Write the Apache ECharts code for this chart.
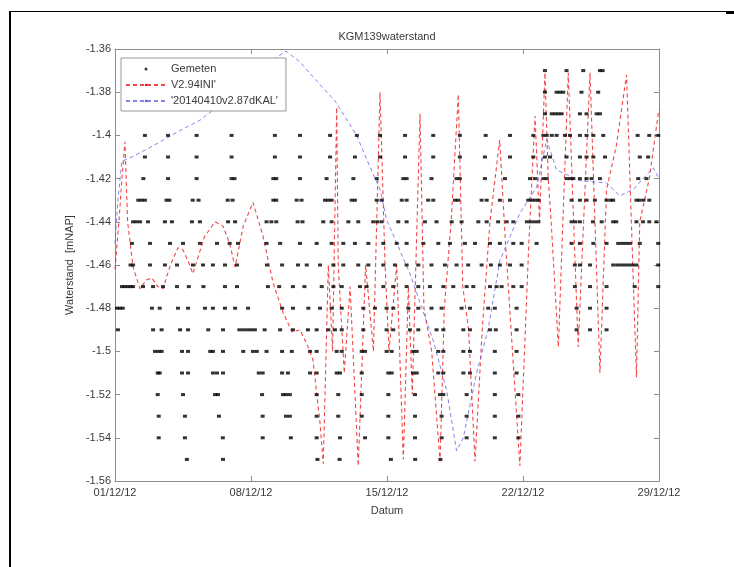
<!DOCTYPE html>
<html><head><meta charset="utf-8">
<script src="https://cdn.jsdelivr.net/npm/echarts@6/dist/echarts.min.js"></script>
<style>html,body{margin:0;padding:0;background:#fff}#c{width:734px;height:567px}</style>
</head><body><div id="c"></div>
<script>
// x values are days after 01/12/12
const xTickLabels = ['01/12/12','08/12/12','15/12/12','22/12/12','29/12/12'];
const chartTitle = 'KGM139waterstand';
const seriesNames = ['Gemeten', "V2.94INI'", "'20140410v2.87dKAL'"];

// Gemeten: one list of days per measured level
const gemLevels = [-1.37,-1.38,-1.39,-1.40,-1.41,-1.42,-1.43,-1.44,-1.45,-1.46,-1.47,-1.48,-1.49,-1.50,-1.51,-1.52,-1.53,-1.54,-1.55];
const gemDays = [
  [22.13,23.24,24.10,24.96,25.1],
  [22.13,22.73,22.9,23.07,24.01,24.87],
  [22.13,22.48,22.65,22.82,22.99,23.93,24.27,24.79,24.96],
  [1.54,2.73,4.2,6.0,8.23,9.52,11.07,12.45,13.64,14.93,16.38,17.75,19.08,20.33,21.53,22.05,22.22,22.48,22.73,23.16,23.42,23.93,24.27,24.62,25.13,26.9,27.5,27.96],
  [1.54,2.73,4.2,6.0,8.23,9.52,11.07,12.35,13.64,14.93,16.38,17.75,19.04,20.33,21.53,22.13,22.39,23.24,23.93,24.27,24.62,25.22,27.01,27.44],
  [1.46,2.73,4.2,6.0,6.15,8.15,8.3,9.52,10.89,12.27,13.47,14.84,15.01,16.29,17.58,17.75,19.04,20.07,21.36,21.62,22.05,22.22,23.24,23.42,23.59,23.93,24.27,24.53,24.96,26.93,27.35],
  [1.2,1.37,1.54,2.65,2.8,4.0,4.3,5.8,6.05,8.15,8.3,9.35,9.6,10.81,10.98,11.15,12.18,12.35,13.47,13.72,14.76,15.01,16.12,16.38,17.50,17.67,18.87,19.13,19.81,20.33,21.27,21.45,21.62,21.8,23.5,23.93,24.27,24.7,25.3,25.5,25.64,26.84,27.0,27.2,27.5],
  [0.93,1.1,1.29,1.7,2.57,2.93,3.96,4.37,5.82,6.18,7.8,8.05,8.3,9.4,9.65,10.72,11.15,12.01,12.52,13.29,13.5,13.72,14.58,15.01,15.95,16.55,17.33,17.84,18.70,19.13,19.72,20.16,20.5,21.2,21.4,21.6,21.79,23.5,23.7,23.93,24.6,25.05,25.64,25.8,26.84,27.18,27.5,27.87],
  [0.87,1.8,2.83,3.5,4.37,5.25,5.9,6.33,7.8,8.5,9.52,10.38,11.15,11.75,12.35,13.04,13.81,14.5,15.01,15.87,16.64,17.24,18.01,18.53,19.3,19.81,20.5,20.93,21.7,23.5,23.93,24.62,25.3,25.9,26.1,26.3,26.5,27.01,27.96],
  [0.8,0.93,1.8,2.57,3.19,4.01,4.53,5.04,5.66,6.28,7.82,8.6,9.42,9.87,10.55,11.24,11.75,12.52,13.04,13.81,14.41,15.01,15.61,16.29,16.98,17.58,18.18,18.87,19.35,19.81,20.33,20.93,23.67,23.93,24.45,25.64,25.85,26.05,26.25,26.45,26.65,26.84,27.96],
  [0.36,0.5,0.65,0.8,0.93,1.44,1.96,2.47,3.19,3.8,4.55,5.66,6.28,7.87,8.45,9.16,9.75,10.64,11.24,11.67,12.61,12.95,13.81,14.32,15.01,15.61,16.21,16.90,17.41,18.10,18.44,19.3,19.64,19.9,20.5,20.93,23.67,24.45,25.3,26.75,27.96],
  [0.1,0.25,0.4,1.9,2.3,3.24,3.76,4.63,5.04,5.66,6.18,6.85,8.6,9.16,9.95,10.55,11.15,11.67,12.78,13.38,13.98,14.32,15.10,15.61,16.29,16.81,17.84,18.27,19.21,19.55,20.67,23.76,24.45,25.30],
  [0.15,1.96,2.4,3.35,3.76,4.8,5.56,6.4,6.6,6.8,7.0,7.2,7.7,8.5,9.16,9.93,10.38,10.98,11.32,11.67,12.78,13.98,14.32,15.18,15.61,16.55,16.90,17.93,18.27,19.30,19.6,20.67,23.76,24.45,25.30],
  [2.06,2.25,2.4,3.45,3.76,4.9,5.04,5.56,6.6,7.1,7.3,7.8,8.6,9.1,10.04,10.38,11.41,11.67,12.70,12.87,13.98,14.24,15.35,15.53,16.64,16.90,17.93,18.27,19.55,20.67],
  [2.2,2.3,3.45,3.76,5.04,5.25,5.56,7.4,7.6,8.6,8.9,10.04,10.38,11.41,11.58,12.70,14.07,14.24,15.35,15.53,16.64,16.90,17.93,18.27,19.55,20.67],
  [2.2,3.5,5.15,5.3,7.57,8.65,8.8,9.0,10.38,11.49,12.70,14.07,15.44,16.73,16.90,18.10,19.55,20.76],
  [2.25,3.6,5.35,7.6,8.8,9.0,10.38,11.49,12.70,14.07,15.44,16.81,18.10,19.55,20.76],
  [2.25,3.6,5.55,7.6,9.05,10.38,11.58,12.87,14.07,15.44,16.81,18.10,19.55,20.76],
  [3.7,5.56,10.42,11.56,14.2,15.45,16.75]
];

// V2.94INI' model
const iniDays = [0,0.2,0.36,0.51,0.65,0.93,1.29,1.6,1.9,2.2,2.47,2.85,3.24,3.5,3.75,4.01,4.6,5.15,5.56,5.9,6.18,6.6,7.1,7.6,8.13,8.65,9.11,9.52,9.9,10.19,10.55,10.72,10.98,11.2,11.41,11.49,11.8,12.1,12.52,12.9,13.3,13.64,13.9,14.1,14.5,14.84,15.1,15.3,15.7,15.9,16.3,16.73,16.95,17.3,17.67,17.9,18.2,18.53,18.9,19.3,19.8,20.1,20.84,21.3,21.62,21.85,22.13,22.3,22.45,22.82,23.33,23.84,24.45,24.96,25.3,25.8,26.33,26.84,27.01,27.5,27.96,28];
const iniValues = [-1.462,-1.44,-1.42,-1.403,-1.44,-1.461,-1.471,-1.467,-1.466,-1.47,-1.471,-1.46,-1.452,-1.453,-1.458,-1.464,-1.447,-1.44,-1.442,-1.45,-1.461,-1.442,-1.431,-1.446,-1.468,-1.482,-1.491,-1.49,-1.497,-1.504,-1.533,-1.552,-1.46,-1.50,-1.387,-1.46,-1.51,-1.47,-1.553,-1.46,-1.50,-1.38,-1.46,-1.50,-1.46,-1.55,-1.47,-1.52,-1.39,-1.48,-1.50,-1.551,-1.48,-1.44,-1.381,-1.47,-1.49,-1.551,-1.49,-1.44,-1.402,-1.45,-1.553,-1.45,-1.391,-1.44,-1.371,-1.42,-1.44,-1.498,-1.371,-1.498,-1.371,-1.51,-1.425,-1.405,-1.372,-1.512,-1.44,-1.42,-1.39,-1.388];

// '20140410v2.87dKAL' model
const kalDays = [0,0.15,0.35,0.87,1.5,2.32,3.3,4.37,5.5,6.5,7.5,8.3,8.8,9.52,10.4,11.32,12.44,13.0,13.64,13.98,15.18,16.38,17.07,17.58,17.93,18.61,19.2,19.81,20.84,21.7,22.22,22.73,23.93,25.3,25.98,26.67,27.7,28];
const kalValues = [-1.45,-1.43,-1.412,-1.41,-1.407,-1.403,-1.398,-1.393,-1.385,-1.377,-1.37,-1.364,-1.361,-1.366,-1.375,-1.384,-1.40,-1.412,-1.425,-1.439,-1.464,-1.495,-1.518,-1.546,-1.54,-1.51,-1.49,-1.458,-1.436,-1.424,-1.402,-1.416,-1.421,-1.422,-1.428,-1.425,-1.415,-1.42];

const gemData = [];
gemLevels.forEach((lv, i) => gemDays[i].forEach(d => gemData.push([d, lv])));
const iniData = iniDays.map((d, i) => [d, iniValues[i]]);
const kalData = kalDays.map((d, i) => [d, kalValues[i]]);

const FONT = 'Liberation Sans, Arial, Helvetica, sans-serif';
const AX = '#8c8c8c';
const TXT = '#3a3a3a';
const axisCommon = {
  axisLine: {show: true, onZero: false, lineStyle: {color: AX, width: 1}},
  axisTick: {show: true, inside: true, length: 5, lineStyle: {color: AX}},
  splitLine: {show: false}
};
const chart = echarts.init(document.getElementById('c'), null, {renderer: 'canvas'});
chart.setOption({
  animation: false,
  backgroundColor: '#fff',
  textStyle: {fontFamily: FONT},
  grid: {left: 115, right: 75, top: 49, bottom: 86, containLabel: false},
  xAxis: [
    Object.assign({type: 'value', min: 0, max: 28, interval: 7, position: 'bottom',
      axisLabel: {formatter: v => xTickLabels[Math.round(v / 7)], fontSize: 11, color: TXT, margin: 6, fontFamily: FONT},
      name: 'Datum', nameLocation: 'middle', nameGap: 24,
      nameTextStyle: {fontSize: 11, color: TXT, fontFamily: FONT}}, axisCommon),
    Object.assign({type: 'value', min: 0, max: 28, interval: 7, position: 'top',
      axisLabel: {show: false}}, axisCommon)
  ],
  yAxis: [
    Object.assign({type: 'value', min: -1.56, max: -1.36, interval: 0.02, position: 'left',
      axisLabel: {formatter: v => String(parseFloat(v.toFixed(2))), fontSize: 11, color: TXT, margin: 4, fontFamily: FONT},
      name: 'Waterstand  [mNAP]', nameLocation: 'middle', nameGap: 38,
      nameTextStyle: {fontSize: 11, color: TXT, fontFamily: FONT}}, axisCommon),
    Object.assign({type: 'value', min: -1.56, max: -1.36, interval: 0.02, position: 'right',
      axisLabel: {show: false}}, axisCommon)
  ],
  legend: {
    left: 121, top: 58, orient: 'vertical',
    itemWidth: 40, itemHeight: 3, itemGap: 0,
    padding: [3, 8, 2, 4],
    backgroundColor: '#fff', borderColor: '#999', borderWidth: 1, borderRadius: 0,
    textStyle: {fontSize: 11, color: TXT, lineHeight: 16, fontFamily: FONT},
    data: [
      {name: seriesNames[0], icon: 'circle'},
      {name: seriesNames[1]},
      {name: seriesNames[2]}
    ]
  },
  graphic: [
    {type: 'text', x: 387, y: 37, style: {text: chartTitle, fill: TXT, font: '11px ' + FONT, textAlign: 'center', textVerticalAlign: 'middle'}},
    {type: 'rect', shape: {x: 9, y: 11, width: 2, height: 556}, style: {fill: '#000'}},
    {type: 'rect', shape: {x: 9, y: 11, width: 725, height: 1}, style: {fill: '#000'}},
    {type: 'rect', shape: {x: 726, y: 11, width: 8, height: 3}, style: {fill: '#000'}}
  ],
  series: [
    {name: seriesNames[0], type: 'scatter', data: gemData, symbol: 'rect', symbolSize: [4, 3],
      itemStyle: {color: '#000'}, z: 3},
    {name: seriesNames[1], type: 'line', data: iniData, symbol: 'none', showSymbol: false,
      lineStyle: {color: '#f01818', width: 1.1, type: [4, 3], opacity: 0.8}, itemStyle: {color: '#f01818'}, z: 2},
    {name: seriesNames[2], type: 'line', data: kalData, symbol: 'none', showSymbol: false,
      lineStyle: {color: '#5a5ae6', width: 1, type: [4, 3], opacity: 0.75}, itemStyle: {color: '#5a5ae6'}, z: 2}
  ]
});
</script>
</body></html>
